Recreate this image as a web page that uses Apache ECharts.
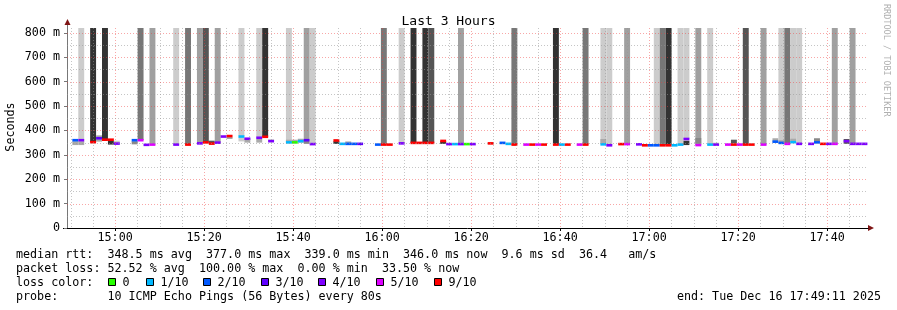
<!DOCTYPE html>
<html><head><meta charset="utf-8">
<script src="https://cdn.jsdelivr.net/npm/echarts@6/dist/echarts.min.js"></script>
<style>html,body{margin:0;padding:0;background:#fff}#c{width:897px;height:310px}</style>
</head><body><div id="c"></div>
<script>
// ---------------- data ----------------
const windowStart = '14:49:11';
const windowMinutes = 180;
const firstStepTime = '14:49:03';
const stepSeconds = 80;
// index of each 80 s step that holds data
const steps =      [1,2,4,5,6,7,8,11,12,13,14,18,20,22,23,24,25,26,27,29,30,32,33,34,37,38,39,40,41,45,46,47,48,49,52,53,54,56,58,59,60,61,63,64,65,66,67,68,71,73,74,75,77,78,79,80,82,83,84,86,87,90,91,93,94,96,97,98,99,100,101,102,103,104,106,108,109,111,112,113,114,115,117,119,120,121,122,123,125,126,127,128,129,131,132,133,134];
// median rtt (ms)
const medianMs =   [360,360,352,368,362,362,346,360,360,341,342,342,342,347,351,346,350,375,377,375,366,370,374,356,351,351,356,360,344,359,345,345,345,345,342,342,342,347,349,349,349,349,357,344,344,344,344,344,347,349,345,342,342,342,342,342,342,342,342,342,342,343,339,344,344,343,339,339,339,339,339,339,342,365,340,342,342,342,342,342,342,342,342,354,349,345,352,345,345,351,345,345,345,356,345,345,345];
// lost pings out of 10
const lossTenths = [2,4,9,3,9,9,4,2,5,4,5,4,9,4,9,9,4,4,9,1,4,4,9,4,1,0,1,3,4,9,1,2,2,3,2,9,9,4,9,9,9,9,9,4,1,4,0,4,9,2,1,9,5,9,5,9,9,1,9,5,9,1,4,9,5,4,9,2,2,9,9,1,1,4,5,1,4,5,9,5,9,9,5,2,2,5,1,4,4,2,9,4,5,4,4,4,4];
// shade of the loss smoke column (0 none, 1 light .. 5 dark)
const lossBarShade=[0,1,5,0,5,0,0,0,3,0,2,1,3,2,4,0,2,0,0,1,0,1,5,0,1,0,0,2,1,0,0,0,0,0,0,3,0,1,5,0,5,4,0,0,0,2,0,0,0,0,0,3,0,0,0,0,5,0,0,0,3,1,1,0,2,0,0,0,1,3,5,0,1,1,2,1,0,0,0,0,4,0,2,0,1,3,1,1,0,0,0,0,2,0,2,0,0];
// rtt smoke around the median (ms), 0 = none
const smokeLowMs = [340,340,0,354,0,342,347,343,0,0,0,0,0,0,0,348,0,0,366,355,350,350,0,356,348,352,350,345,0,345,0,347,0,0,0,0,0,0,0,0,0,0,345,0,0,0,0,0,0,0,0,0,0,0,0,0,0,0,0,0,0,346,0,0,0,0,0,0,0,0,0,0,0,340,346,0,342,0,346,0,0,0,0,350,350,0,350,0,0,350,0,0,0,345,0,0,0];
const smokeHighMs= [356,356,0,380,0,358,358,356,0,0,0,0,0,0,0,358,0,0,372,372,368,366,0,364,362,362,366,362,0,356,0,355,0,0,0,0,0,0,0,0,0,0,356,0,0,0,0,0,0,0,0,0,0,0,0,0,0,0,0,0,0,365,0,0,0,0,0,0,0,0,0,0,0,358,369,0,350,0,362,0,0,0,0,368,360,0,366,0,0,368,0,0,0,365,0,0,0];
const smokeShade = [2,2,0,2,0,5,1,3,0,0,0,0,0,0,0,4,0,0,3,1,2,2,0,1,2,2,2,3,0,5,0,2,0,0,0,0,0,0,0,0,0,0,5,0,0,0,0,0,0,0,0,0,0,0,0,0,0,0,0,0,0,2,0,0,0,0,0,0,0,0,0,0,0,5,3,0,1,0,4,0,0,0,0,2,2,0,2,0,0,3,0,0,0,4,0,0,0];
const yTicks = [0,100,200,300,400,500,600,700,800];
const yMinorTicks = [50,150,250,350,450,550,650,750];
const yMax = 820;
const xLabelTimes = ['15:00','15:20','15:40','16:00','16:20','16:40','17:00','17:20','17:40'];
const xMinorTimes = ['14:50','14:55','15:05','15:10','15:15','15:25','15:30','15:35','15:45','15:50','15:55','16:05','16:10','16:15','16:25','16:30','16:35','16:45','16:50','16:55','17:05','17:10','17:15','17:25','17:30','17:35','17:45'];
const lossLegend = ['0','1/10','2/10','3/10','4/10','5/10','9/10'];
const lossLegendKeys = [0,1,2,3,4,5,9];
const statLines = [
  'median rtt:  348.5 ms avg  377.0 ms max  339.0 ms min  346.0 ms now  9.6 ms sd  36.4   am/s',
  'packet loss: 52.52 % avg  100.00 % max  0.00 % min  33.50 % now'
];
const probeLine = 'probe:       10 ICMP Echo Pings (56 Bytes) every 80s';
const endLine = 'end: Tue Dec 16 17:49:11 2025';

// ---------------- styles ----------------
const lossColors = {0:'#26ff00',1:'#00b8ff',2:'#0059ff',3:'#5e00ff',4:'#7e00ff',5:'#dd00ff',9:'#ff0000'};
const barColors = [null,'#cccccc','#a0a0a0','#777777','#555555','#333333'];
const smokeColors = [null,'#cccccc','#aaaaaa','#888888','#555555','#333333'];
const MONO = 'DejaVu Sans Mono';
const FS = 11.7;

function toMin(s){const p=s.split(':').map(Number);return p[0]*60+p[1]+(p[2]||0)/60;}
function fmt(v){const h=Math.floor(v/60+1e-9),m=Math.round(v-h*60);return String(h).padStart(2,'0')+':'+String(m).padStart(2,'0');}
const xMin = toMin(windowStart), xMax = xMin + windowMinutes;
const t0 = toMin(firstStepTime), stepMin = stepSeconds/60;

const data = steps.map((k,i)=>[t0+k*stepMin, t0+(k+1)*stepMin, medianMs[i], lossTenths[i], lossBarShade[i], smokeLowMs[i], smokeHighMs[i], smokeShade[i]]);
const gridData = [];
xMinorTimes.forEach(t=>gridData.push([toMin(t),0,0]));
xLabelTimes.forEach(t=>gridData.push([toMin(t),0,1]));
yMinorTicks.forEach(v=>gridData.push([v,1,0]));
yTicks.filter(v=>v>0).forEach(v=>gridData.push([v,1,1]));

const chart = echarts.init(document.getElementById('c'), null, {renderer:'canvas'});

const graphics = [];
statLines.forEach((s,i)=>graphics.push({type:'text',x:16,y:255+i*13.8,style:{text:s,font:FS+'px '+MONO,fill:'#000',textVerticalAlign:'middle'}}));
graphics.push({type:'text',x:16,y:282.5,style:{text:'loss color:',font:FS+'px '+MONO,fill:'#000',textVerticalAlign:'middle'}});
const legendLabelX = [123,161,218,276,333,391,449];
lossLegend.forEach((lab,i)=>{
  graphics.push({type:'rect',shape:{x:legendLabelX[i]-14.5,y:278.5,width:7,height:7},style:{fill:lossColors[lossLegendKeys[i]],stroke:'#000',lineWidth:1}});
  graphics.push({type:'text',x:legendLabelX[i]-0.5,y:282.5,style:{text:lab,font:FS+'px '+MONO,fill:'#000',textVerticalAlign:'middle'}});
});
graphics.push({type:'text',x:16,y:296.5,style:{text:probeLine,font:FS+'px '+MONO,fill:'#000',textVerticalAlign:'middle'}});
graphics.push({type:'text',x:881,y:296.5,style:{text:endLine,font:FS+'px '+MONO,fill:'#000',textVerticalAlign:'middle',textAlign:'right'}});
graphics.push({type:'text',x:11,y:127,rotation:Math.PI/2,style:{text:'Seconds',font:FS+'px '+MONO,fill:'#000',textAlign:'center',textVerticalAlign:'middle'}});
graphics.push({type:'text',x:886,y:4,rotation:-Math.PI/2,style:{text:'RRDTOOL / TOBI OETIKER',font:'8.5px '+MONO,fill:'#b0b0b0',textAlign:'left',textVerticalAlign:'middle'}});
// axis extensions / arrows
graphics.push({type:'line',shape:{x1:67.5,y1:22,x2:67.5,y2:28},style:{stroke:'#777',lineWidth:1}});
graphics.push({type:'polygon',shape:{points:[[64.5,25],[70.5,25],[67.5,19]]},style:{fill:'#7f1515'}});
graphics.push({type:'polygon',shape:{points:[[868,225],[868,231],[874,228]]},style:{fill:'#7f1515'}});
graphics.push({type:'line',shape:{x1:63,y1:228.5,x2:67,y2:228.5},style:{stroke:'#000',lineWidth:1}});

chart.setOption({
  animation:false,
  backgroundColor:'#fff',
  title:{text:'Last 3 Hours',left:'center',top:10,textStyle:{fontFamily:MONO,fontSize:13,fontWeight:'normal',color:'#000'}},
  grid:{left:67,right:29,top:28,bottom:82,containLabel:false},
  xAxis:{type:'value',min:xMin,max:xMax,
    axisLine:{show:true,lineStyle:{color:'#000',width:1}},
    axisTick:{show:true,customValues:xLabelTimes.map(toMin),length:3,inside:false,lineStyle:{color:'#000'}},
    axisLabel:{customValues:xLabelTimes.map(toMin),formatter:v=>fmt(v),fontFamily:MONO,fontSize:FS,color:'#000',margin:4},
    splitLine:{show:false}},
  yAxis:{type:'value',min:0,max:yMax,
    axisLine:{show:true,lineStyle:{color:'#777',width:1}},
    axisTick:{show:true,customValues:yTicks,length:3,lineStyle:{color:'#777'}},
    axisLabel:{customValues:yTicks,formatter:v=>v===0?'0':v+' m',fontFamily:MONO,fontSize:FS,color:'#000',margin:7},
    splitLine:{show:false}},
  graphic:graphics,
  series:[
    {type:'custom',z:2,silent:true,data:data,encode:{x:[0,1],y:2},
     renderItem:function(params,api){
       const a=api.coord([api.value(0),api.value(2)]), b=api.coord([api.value(1),api.value(2)]);
       const top=api.coord([api.value(0),yMax])[1];
       const x0=a[0], w=b[0]-a[0], ym=a[1];
       const ch=[];
       const bar=api.value(4);
       if(bar) ch.push({type:'rect',shape:{x:x0,y:top,width:w,height:ym-top},style:{fill:barColors[bar]}});
       const sh=api.value(7);
       if(sh){const yh=api.coord([api.value(0),api.value(6)])[1], yl=api.coord([api.value(0),api.value(5)])[1];
         ch.push({type:'rect',shape:{x:x0,y:yh,width:w,height:yl-yh},style:{fill:smokeColors[sh]}});}
       ch.push({type:'rect',shape:{x:x0,y:ym-1.3,width:w,height:2.6},style:{fill:lossColors[api.value(3)]}});
       return {type:'group',children:ch};
     }},
    {type:'custom',z:5,silent:true,data:gridData,
     renderItem:function(params,api){
       const cs=params.coordSys; const v=api.value(0), dir=api.value(1), major=api.value(2);
       let shape;
       if(dir===0){const x=Math.round(api.coord([v,0])[0])+0.5; shape={x1:x,y1:cs.y,x2:x,y2:cs.y+cs.height};}
       else {const y=Math.round(api.coord([xMin,v])[1])+0.5; shape={x1:cs.x,y1:y,x2:cs.x+cs.width,y2:y};}
       return {type:'line',shape:shape,style:{stroke:major?'rgba(240,60,60,0.45)':'rgba(150,150,150,0.55)',lineWidth:1,lineDash:[1,2]}};
     }}
  ]
});
</script></body></html>
